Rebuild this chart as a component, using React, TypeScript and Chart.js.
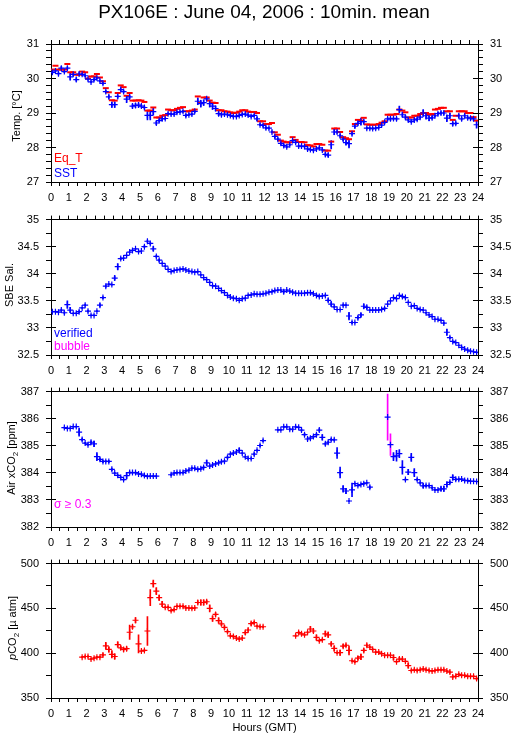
import React, { useEffect, useRef } from "react";
import { Chart, registerables } from "chart.js";

Chart.register(...registerables);

const FONT = '"Liberation Sans", Arial, Helvetica, sans-serif';
const BLUE = "#0000ff";
const RED = "#ff0000";
const MAGENTA = "#ff00ff";

// ---------------- DATA ----------------
const timeHours = [
  0.08, 0.25, 0.42, 0.58, 0.75, 0.92, 1.08, 1.25, 1.42, 1.58, 1.75, 1.92,
  2.08, 2.25, 2.42, 2.58, 2.75, 2.92, 3.08, 3.25, 3.42, 3.58, 3.75, 3.92,
  4.08, 4.25, 4.42, 4.58, 4.75, 4.92, 5.08, 5.25, 5.42, 5.58, 5.75, 5.92,
  6.08, 6.25, 6.42, 6.58, 6.75, 6.92, 7.08, 7.25, 7.42, 7.58, 7.75, 7.92,
  8.08, 8.25, 8.42, 8.58, 8.75, 8.92, 9.08, 9.25, 9.42, 9.58, 9.75, 9.92,
  10.08, 10.25, 10.42, 10.58, 10.75, 10.92, 11.08, 11.25, 11.42, 11.58, 11.75, 11.92,
  12.08, 12.25, 12.42, 12.58, 12.75, 12.92, 13.08, 13.25, 13.42, 13.58, 13.75, 13.92,
  14.08, 14.25, 14.42, 14.58, 14.75, 14.92, 15.08, 15.25, 15.42, 15.58, 15.75, 15.92,
  16.08, 16.25, 16.42, 16.58, 16.75, 16.92, 17.08, 17.25, 17.42, 17.58, 17.75, 17.92,
  18.08, 18.25, 18.42, 18.58, 18.75, 18.92, 19.08, 19.25, 19.42, 19.58, 19.75, 19.92,
  20.08, 20.25, 20.42, 20.58, 20.75, 20.92, 21.08, 21.25, 21.42, 21.58, 21.75, 21.92,
  22.08, 22.25, 22.42, 22.58, 22.75, 22.92, 23.08, 23.25, 23.42, 23.58, 23.75, 23.92,
];

const sstValues = [
  30.18, 30.22, 30.14, 30.3, 30.2, 30.3, 30.05, 30.12, 29.97, 30.13, 30.12, 30.08,
  29.98, 29.9, 29.97, 30.02, 29.93, 29.86, 29.62, 29.47, 29.24, 29.24, 29.48, 29.68,
  29.62, 29.4, 29.47, 29.2, 29.22, 29.23, 29.2, 29.16, 28.93, 28.93, 29.04, 28.71,
  28.78, 28.83, 28.84, 28.98, 28.97, 28.97, 29.02, 29.03, 29.05, 28.93, 28.95, 28.97,
  29.05, 29.34, 29.27, 29.3, 29.41, 29.27, 29.2, 29.13, 28.98, 28.95, 28.97, 28.95,
  28.93, 28.9, 28.9, 28.93, 28.96, 28.97, 28.94, 28.9, 28.93, 28.83, 28.66, 28.64,
  28.57, 28.56, 28.45, 28.32, 28.24, 28.12, 28.06, 28.02, 28.08, 28.2, 28.15, 28.04,
  28.04, 28.03, 27.96, 27.94, 27.92, 27.96, 27.99, 27.93, 27.8, 27.78, 28.08, 28.45,
  28.45, 28.34, 28.24, 28.14, 28.11, 28.4, 28.62, 28.7, 28.75, 28.75, 28.56, 28.56,
  28.55, 28.56, 28.58, 28.65, 28.73, 28.83, 28.83, 28.84, 28.83, 29.1, 28.95, 28.88,
  28.8, 28.75, 28.8, 28.82, 28.88, 29.0, 28.92, 28.85, 28.86, 28.92, 28.98, 29.0,
  29.0, 28.85, 28.92, 28.69, 28.7, 28.92, 28.83, 28.92, 28.86, 28.85, 28.83, 28.66,
];

const sstSigma = [
  0.03, 0.03, 0.04, 0.05, 0.03, 0.04, 0.1, 0.04, 0.05, 0.04, 0.03, 0.03,
  0.03, 0.03, 0.03, 0.03, 0.03, 0.03, 0.04, 0.05, 0.08, 0.08, 0.05, 0.04,
  0.04, 0.1, 0.05, 0.06, 0.06, 0.06, 0.04, 0.04, 0.13, 0.13, 0.1, 0.05,
  0.04, 0.05, 0.03, 0.03, 0.03, 0.03, 0.03, 0.03, 0.03, 0.04, 0.03, 0.03,
  0.04, 0.1, 0.1, 0.08, 0.05, 0.1, 0.1, 0.07, 0.06, 0.04, 0.03, 0.03,
  0.03, 0.03, 0.03, 0.03, 0.03, 0.03, 0.03, 0.03, 0.03, 0.05, 0.03, 0.04,
  0.04, 0.03, 0.03, 0.05, 0.04, 0.04, 0.04, 0.03, 0.03, 0.04, 0.03, 0.03,
  0.03, 0.03, 0.04, 0.03, 0.03, 0.03, 0.03, 0.03, 0.05, 0.05, 0.12, 0.08,
  0.04, 0.05, 0.05, 0.06, 0.12, 0.04, 0.05, 0.05, 0.1, 0.05, 0.03, 0.03,
  0.03, 0.03, 0.03, 0.04, 0.04, 0.04, 0.05, 0.04, 0.04, 0.1, 0.06, 0.05,
  0.04, 0.03, 0.04, 0.04, 0.04, 0.1, 0.1, 0.07, 0.04, 0.03, 0.04, 0.04,
  0.04, 0.1, 0.08, 0.05, 0.04, 0.05, 0.04, 0.04, 0.04, 0.05, 0.05, 0.1,
];

const eqTValues = [
  30.26, 30.37, 30.26, 30.26, 30.26, 30.42, 30.18, 30.18, 30.11, 30.11, 30.2, 30.18,
  30.0, 30.06, 30.06, 30.13, 30.03, 29.92, 29.72, 29.6, 29.37, 29.36, 29.58, 29.8,
  29.75, 29.5, 29.58, 29.36, 29.36, 29.37, 29.36, 29.32, 29.07, 29.07, 29.16, 28.87,
  28.87, 28.92, 28.94, 29.1, 29.08, 29.08, 29.12, 29.15, 29.17, 29.05, 29.05, 29.07,
  29.1, 29.48, 29.29, 29.45, 29.45, 29.36, 29.3, 29.29, 29.08, 29.08, 29.05, 29.04,
  29.02, 29.0, 29.01, 29.04, 29.08, 29.08, 29.04, 29.03, 29.03, 29.0, 28.76, 28.76,
  28.68, 28.68, 28.71, 28.44, 28.37, 28.2, 28.17, 28.15, 28.15, 28.3, 28.22, 28.16,
  28.16, 28.15, 28.07, 28.06, 28.03, 28.1, 28.1, 28.08, 27.91, 27.91, 28.17, 28.55,
  28.55, 28.45, 28.3, 28.27, 28.24, 28.47, 28.68, 28.8, 28.78, 28.86, 28.67, 28.66,
  28.66, 28.66, 28.68, 28.72, 28.76, 28.95, 28.95, 28.95, 28.97, 29.1, 29.07, 29.02,
  28.87, 28.87, 28.92, 28.92, 28.97, 29.0, 29.0, 28.95, 28.97, 29.1, 29.12, 29.15,
  29.15, 29.05, 29.05, 28.8, 28.92, 29.05, 29.05, 29.05, 29.0, 29.0, 28.88, 28.78,
];

const salValues = [
  33.3, 33.3, 33.29, 33.33, 33.28, 33.43, 33.33, 33.27, 33.27, 33.3, 33.37, 33.42,
  33.31, 33.23, 33.23, 33.31, 33.42, 33.56, 33.77, 33.81, 33.8, 33.92, 34.13, 34.28,
  34.29, 34.34, 34.4, 34.43, 34.46, 34.41, 34.42, 34.5, 34.6, 34.56, 34.46, 34.32,
  34.25, 34.19, 34.14, 34.08, 34.04, 34.06, 34.07, 34.08, 34.09, 34.07, 34.05, 34.04,
  34.03, 34.04, 33.98, 33.93, 33.89, 33.84, 33.78, 33.77, 33.73, 33.69, 33.65, 33.6,
  33.57, 33.55, 33.54, 33.51, 33.54, 33.55, 33.6, 33.61, 33.63, 33.62, 33.62, 33.63,
  33.64, 33.66, 33.67, 33.69, 33.7, 33.7, 33.67, 33.7, 33.68, 33.66, 33.64, 33.64,
  33.64, 33.64, 33.65, 33.65, 33.63, 33.6, 33.58, 33.59, 33.6, 33.51, 33.44, 33.39,
  33.34, 33.34, 33.42, 33.42, 33.22, 33.1, 33.1, 33.19, 33.24, 33.4, 33.38, 33.33,
  33.33, 33.33, 33.33, 33.34, 33.36, 33.44, 33.5, 33.56, 33.54, 33.6, 33.58, 33.56,
  33.47, 33.4, 33.41, 33.36, 33.34, 33.33, 33.28, 33.24, 33.21, 33.16, 33.16, 33.14,
  33.09, 32.92, 32.82, 32.75, 32.73, 32.68, 32.64, 32.61, 32.59, 32.57, 32.56, 32.55,
];

const salSigma = [
  0.01, 0.01, 0.01, 0.02, 0.02, 0.07, 0.05, 0.01, 0.01, 0.02, 0.01, 0.02,
  0.02, 0.01, 0.01, 0.01, 0.03, 0.02, 0.02, 0.01, 0.01, 0.04, 0.06, 0.02,
  0.01, 0.01, 0.01, 0.01, 0.01, 0.01, 0.01, 0.02, 0.02, 0.02, 0.04, 0.02,
  0.02, 0.01, 0.01, 0.01, 0.01, 0.01, 0.01, 0.01, 0.01, 0.01, 0.01, 0.01,
  0.01, 0.01, 0.01, 0.01, 0.01, 0.01, 0.01, 0.01, 0.01, 0.01, 0.01, 0.01,
  0.01, 0.01, 0.01, 0.01, 0.01, 0.01, 0.01, 0.01, 0.01, 0.01, 0.01, 0.01,
  0.01, 0.01, 0.01, 0.01, 0.01, 0.01, 0.03, 0.01, 0.01, 0.01, 0.01, 0.01,
  0.01, 0.01, 0.01, 0.01, 0.01, 0.01, 0.01, 0.01, 0.01, 0.03, 0.04, 0.02,
  0.01, 0.01, 0.02, 0.01, 0.07, 0.02, 0.01, 0.03, 0.03, 0.04, 0.03, 0.01,
  0.01, 0.01, 0.01, 0.01, 0.02, 0.01, 0.01, 0.01, 0.01, 0.01, 0.02, 0.01,
  0.01, 0.01, 0.01, 0.01, 0.01, 0.01, 0.01, 0.01, 0.01, 0.01, 0.01, 0.01,
  0.02, 0.06, 0.02, 0.01, 0.01, 0.01, 0.01, 0.01, 0.01, 0.01, 0.01, 0.01,
];

const xco2Hours = [
  0.75, 0.92, 1.08, 1.25, 1.42, 1.58, 1.75, 1.92, 2.08, 2.25, 2.42, 2.58, 2.75, 2.92,
  3.08, 3.25, 3.42, 3.58, 3.75, 3.92, 4.08, 4.25, 4.42, 4.58, 4.75, 4.92, 5.08, 5.25,
  5.42, 5.58, 5.75, 5.92,
  6.75, 6.92, 7.08, 7.25, 7.42, 7.58, 7.75, 7.92, 8.08, 8.25, 8.42, 8.58, 8.75, 8.92,
  9.08, 9.25, 9.42, 9.58, 9.75, 9.92, 10.08, 10.25, 10.42, 10.58, 10.75, 10.92, 11.08,
  11.25, 11.42, 11.58, 11.75, 11.92,
  12.75, 12.92, 13.08, 13.25, 13.42, 13.58, 13.75, 13.92, 14.08, 14.25, 14.42, 14.58,
  14.75, 14.92, 15.08, 15.25, 15.42, 15.58, 15.75, 15.92, 16.08, 16.25, 16.42, 16.58,
  16.75, 16.92, 17.08, 17.25, 17.42, 17.58, 17.75, 17.92,
  18.92, 19.08, 19.25, 19.42, 19.58, 19.75, 19.92, 20.08, 20.25, 20.42, 20.58, 20.75,
  20.92, 21.08, 21.25, 21.42, 21.58, 21.75, 21.92, 22.08, 22.25, 22.42, 22.58, 22.75,
  22.92, 23.08, 23.25, 23.42, 23.58, 23.75, 23.92,
];

const xco2Values = [
  385.67, 385.64, 385.64, 385.71, 385.71, 385.5, 385.23, 385.1, 385.04, 385.13, 385.07,
  384.6, 384.5, 384.42, 384.42, 384.42, 384.13, 383.99, 383.91, 383.83, 383.75, 383.9,
  384.01, 384.01, 384.01, 383.96, 383.95, 383.9, 383.87, 383.88, 383.88, 383.88,
  383.93, 383.99, 384.01, 384.01, 384.01, 384.07, 384.1, 384.17, 384.17, 384.13, 384.15,
  384.2, 384.37, 384.25, 384.29, 384.33, 384.37, 384.41, 384.43, 384.57, 384.69, 384.73,
  384.77, 384.83, 384.73, 384.59, 384.53, 384.53, 384.69, 384.83, 385.01, 385.19,
  385.59, 385.59, 385.7, 385.7, 385.61, 385.61, 385.7, 385.68, 385.58, 385.41, 385.25,
  385.28, 385.34, 385.41, 385.58, 385.31, 385.07, 385.13, 385.23, 385.22, 384.73, 384.01,
  383.41, 383.33, 382.96, 383.37, 383.6, 383.53, 383.57, 383.6, 383.63, 383.47,
  386.06, 385.04, 384.6, 384.63, 384.71, 384.2, 383.75, 384.03, 384.57, 384.01, 383.75,
  383.63, 383.52, 383.53, 383.53, 383.45, 383.37, 383.37, 383.41, 383.41, 383.57, 383.65,
  383.83, 383.76, 383.76, 383.77, 383.72, 383.71, 383.69, 383.69, 383.68,
];

const xco2Sigma = [
  0.02, 0.02, 0.02, 0.02, 0.02, 0.15, 0.05, 0.03, 0.03, 0.05, 0.1, 0.15, 0.05, 0.04,
  0.03, 0.04, 0.05, 0.03, 0.03, 0.03, 0.03, 0.12, 0.04, 0.03, 0.03, 0.03, 0.03, 0.03,
  0.03, 0.03, 0.03, 0.03,
  0.03, 0.03, 0.03, 0.03, 0.03, 0.03, 0.03, 0.03, 0.03, 0.03, 0.03, 0.03, 0.1, 0.03,
  0.03, 0.03, 0.03, 0.03, 0.03, 0.05, 0.03, 0.03, 0.03, 0.08, 0.03, 0.03, 0.03, 0.03,
  0.05, 0.03, 0.04, 0.04,
  0.02, 0.02, 0.03, 0.03, 0.03, 0.03, 0.03, 0.03, 0.04, 0.05, 0.04, 0.05, 0.04, 0.05,
  0.05, 0.1, 0.05, 0.04, 0.04, 0.04, 0.2, 0.2, 0.12, 0.1, 0.02, 0.25, 0.03, 0.02, 0.02,
  0.03, 0.02, 0.05,
  0.85, 0.4, 0.15, 0.2, 0.15, 0.25, 0.03, 0.1, 0.15, 0.15, 0.04, 0.04, 0.08, 0.04,
  0.03, 0.03, 0.03, 0.03, 0.08, 0.1, 0.1, 0.05, 0.1, 0.05, 0.04, 0.03, 0.03, 0.03,
  0.02, 0.02, 0.02,
];

const pco2Hours = [
  1.75, 1.92, 2.08, 2.25, 2.42, 2.58, 2.75, 2.92, 3.08, 3.25, 3.42, 3.58, 3.75, 3.92,
  4.08, 4.25, 4.42, 4.58, 4.75, 4.92, 5.08, 5.25, 5.42, 5.58, 5.75, 5.92, 6.08, 6.25,
  6.42, 6.58, 6.75, 6.92, 7.08, 7.25, 7.42, 7.58, 7.75, 7.92, 8.08, 8.25, 8.42, 8.58,
  8.75, 8.92, 9.08, 9.25, 9.42, 9.58, 9.75, 9.92, 10.08, 10.25, 10.42, 10.58, 10.75,
  10.92, 11.08, 11.25, 11.42, 11.58, 11.75, 11.92,
  13.75, 13.92, 14.08, 14.25, 14.42, 14.58, 14.75, 14.92, 15.08, 15.25, 15.42, 15.58,
  15.75, 15.92, 16.08, 16.25, 16.42, 16.58, 16.75, 16.92, 17.08, 17.25, 17.42, 17.58,
  17.75, 17.92, 18.08, 18.25, 18.42, 18.58, 18.75, 18.92, 19.08, 19.25, 19.42, 19.58,
  19.75, 19.92, 20.08, 20.25, 20.42, 20.58, 20.75, 20.92, 21.08, 21.25, 21.42, 21.58,
  21.75, 21.92, 22.08, 22.25, 22.42, 22.58, 22.75, 22.92, 23.08, 23.25, 23.42, 23.58,
  23.75, 23.92,
];

const pco2Values = [
  395.6, 396.3, 396.3, 393.4, 394.5, 395.6, 395.6, 398.1, 408.2, 404.2, 398.8, 396.3,
  409.6, 406.0, 404.2, 405.0, 423.4, 429.5, 436.8, 410.4, 402.4, 403.1, 424.8, 462.0,
  477.6, 469.3, 462.0, 454.8, 451.2, 451.2, 447.6, 448.7, 452.3, 452.3, 452.3, 450.5,
  450.5, 450.1, 450.5, 456.6, 456.6, 456.6, 457.4, 450.1, 438.6, 443.3, 436.4, 432.8,
  428.8, 424.1, 419.4, 418.7, 416.9, 415.8, 416.9, 423.0, 425.9, 433.1, 434.2, 430.2,
  429.5, 429.5,
  419.4, 423.0, 421.6, 420.5, 423.4, 427.0, 424.8, 417.6, 414.0, 415.1, 421.6, 420.5,
  410.4, 405.3, 400.6, 400.6, 407.8, 408.9, 403.1, 391.6, 390.5, 394.5, 395.9, 403.1,
  408.9, 406.8, 404.2, 401.3, 401.3, 399.5, 397.7, 397.7, 397.7, 395.2, 390.5, 393.4,
  393.4, 390.9, 386.2, 380.7, 381.5, 380.7, 381.5, 382.5, 381.5, 380.7, 380.0, 380.7,
  381.5, 381.5, 381.5, 380.0, 378.9, 373.5, 374.2, 376.4, 375.3, 375.3, 374.2, 374.2,
  374.2, 371.7,
];

const pco2Sigma = [
  1, 1, 1, 1, 1, 1, 1, 1.5, 4, 3, 4, 3, 3, 2,
  2, 2, 8, 2, 3, 10, 1, 1, 16, 9, 4, 4, 3, 3,
  1, 1, 1, 1, 1, 1, 1, 1, 1, 1, 1, 2, 3, 3,
  2, 4, 3, 2, 3, 2, 2, 1.5, 1, 1, 1, 1, 1,
  2, 1.5, 2, 1.5, 1, 1, 1,
  1, 1.5, 1.5, 1, 1, 3, 2, 3, 1, 1, 3, 3,
  2, 3, 1, 3, 2, 1.5, 5, 1, 1, 2, 3, 2,
  1.5, 1, 1, 1, 1, 1, 1, 1, 1, 3, 1, 2,
  1.5, 1, 3, 1, 1, 1, 1, 1, 1, 1, 1, 1,
  1, 1, 1, 1, 1.5, 1.5, 1, 1, 1, 1, 1, 1,
  1, 1.5,
];

const SIGMA_FLAG = 0.3;

// ---------------- helpers ----------------
type Seg = { t: string; italic?: boolean; sub?: boolean };
type TextItem = { text: string; x: number; y: number; color: string; size: number; align?: CanvasTextAlign };

type PanelSpec = {
  top: number;
  height: number;
  padTop: number;
  plotTop: number;
  plotBottom: number;
  yMin: number;
  yMax: number;
  yStep: number;
  yMajor: number;
  yDecimals: number;
  datasets: any[];
  xTitle?: string;
  yTitle: Seg[];
  yTitleX: number;
  yTitleY: number;
  texts: TextItem[];
};

const isMultiple = (v: number, m: number) => Math.abs(v / m - Math.round(v / m)) < 1e-6;

function errBars(hours: number[], vals: number[], sig: number[], colorFn: (s: number) => string) {
  return {
    type: "bar",
    data: hours.map((h, i) => ({ x: h, y: [vals[i] - sig[i], vals[i] + sig[i]] })),
    backgroundColor: sig.map((s) => colorFn(s)),
    borderWidth: 0,
    barThickness: 1,
    grouped: false,
    xAxisID: "x",
    yAxisID: "y",
    order: 3,
  };
}

function crosses(hours: number[], vals: number[], color: string, radius = 3) {
  return {
    type: "scatter",
    data: hours.map((h, i) => ({ x: h, y: vals[i] })),
    pointStyle: "cross",
    pointRadius: radius,
    pointBorderWidth: 1.2,
    borderColor: color,
    backgroundColor: color,
    xAxisID: "x",
    yAxisID: "y",
    order: 1,
  };
}

function dashes(hours: number[], vals: number[], color: string) {
  return {
    type: "scatter",
    data: hours.map((h, i) => ({ x: h, y: vals[i] })),
    pointStyle: "line",
    pointRadius: 3,
    pointBorderWidth: 2,
    borderColor: color,
    backgroundColor: color,
    xAxisID: "x",
    yAxisID: "y",
    order: 2,
  };
}

function drawRich(ctx: CanvasRenderingContext2D, segs: Seg[], cx: number, cy: number, size: number) {
  ctx.save();
  ctx.translate(cx, cy);
  ctx.rotate(-Math.PI / 2);
  const fonts = segs.map((s) => `${s.italic ? "italic " : ""}${s.sub ? Math.round(size * 0.75) : size}px ${FONT}`);
  let total = 0;
  const widths = segs.map((s, i) => {
    ctx.font = fonts[i];
    const w = ctx.measureText(s.t).width;
    total += w;
    return w;
  });
  let x = -total / 2;
  ctx.fillStyle = "#000";
  ctx.textBaseline = "alphabetic";
  ctx.textAlign = "left";
  const base = size * 0.36;
  segs.forEach((s, i) => {
    ctx.font = fonts[i];
    ctx.fillText(s.t, x, s.sub ? base + size * 0.25 : base);
    x += widths[i];
  });
  ctx.restore();
}

function makePlugin(spec: PanelSpec) {
  return {
    id: "decor",
    afterDraw(chart: any) {
      const ctx: CanvasRenderingContext2D = chart.ctx;
      const { left, right } = chart.chartArea;
      const ys = chart.scales.y;
      ctx.save();
      ctx.strokeStyle = "#000";
      ctx.lineWidth = 1;
      ctx.beginPath();
      ys.ticks.forEach((t: any) => {
        if (isMultiple(t.value, spec.yMajor)) {
          const py = Math.round(ys.getPixelForValue(t.value) - 0.5) + 0.5;
          ctx.moveTo(left, py);
          ctx.lineTo(left + 5, py);
          ctx.moveTo(right - 5, py);
          ctx.lineTo(right, py);
        }
      });
      ctx.stroke();
      ctx.restore();

      spec.texts.forEach((t) => {
        ctx.save();
        ctx.font = `${t.size}px ${FONT}`;
        ctx.fillStyle = t.color;
        ctx.textAlign = t.align || "left";
        ctx.textBaseline = "alphabetic";
        ctx.fillText(t.text, t.x, t.y);
        ctx.restore();
      });
      drawRich(ctx, spec.yTitle, spec.yTitleX, spec.yTitleY, 11);
    },
  };
}

function buildConfig(spec: PanelSpec): any {
  const tickFont = { family: FONT, size: 11 };
  const grid = {
    display: true,
    drawOnChartArea: false,
    drawTicks: true,
    tickColor: "#000",
    tickWidth: 1,
    offset: false,
  };
  const border = { display: true, color: "#000", width: 1 };
  const xLabel = (v: any) => (isMultiple(Number(v), 1) ? String(Math.round(Number(v))) : "");
  const yLabel = (v: any) => (isMultiple(Number(v), spec.yMajor) ? Number(v).toFixed(isMultiple(Number(v), 1) ? 0 : spec.yDecimals) : "");
  const xH = spec.height - spec.plotBottom;
  const x2H = spec.plotTop - spec.padTop;
  return {
    type: "scatter",
    data: { datasets: spec.datasets },
    plugins: [makePlugin(spec)],
    options: {
      animation: false,
      responsive: false,
      events: [],
      layout: { padding: { top: spec.padTop, left: 0, right: 0, bottom: 0 } },
      plugins: { legend: { display: false }, tooltip: { enabled: false }, title: { display: false } },
      scales: {
        x: {
          type: "linear",
          position: "bottom",
          min: 0,
          max: 24,
          offset: false,
          ticks: {
            stepSize: 0.5,
            autoSkip: false,
            maxRotation: 0,
            minRotation: 0,
            padding: 5,
            color: "#000",
            font: tickFont,
            callback: xLabel,
          },
          grid: { ...grid, tickLength: 4 },
          border,
          title: spec.xTitle
            ? { display: true, text: spec.xTitle, color: "#000", font: tickFont, padding: { top: 0, bottom: 4 } }
            : { display: false },
          afterFit: (s: any) => {
            s.height = xH;
          },
        },
        x2: {
          type: "linear",
          position: "top",
          min: 0,
          max: 24,
          offset: false,
          ticks: { stepSize: 0.5, autoSkip: false, maxRotation: 0, minRotation: 0, display: false },
          grid: { ...grid, tickLength: 4 },
          border,
          afterFit: (s: any) => {
            s.height = x2H;
          },
        },
        y: {
          type: "linear",
          position: "left",
          min: spec.yMin,
          max: spec.yMax,
          ticks: { stepSize: spec.yStep, autoSkip: false, padding: 7, color: "#000", font: tickFont, callback: yLabel },
          grid: { ...grid, tickLength: 5 },
          border,
          afterFit: (s: any) => {
            s.width = 51;
          },
        },
        y2: {
          type: "linear",
          position: "right",
          min: spec.yMin,
          max: spec.yMax,
          ticks: { stepSize: spec.yStep, autoSkip: false, padding: 7, color: "#000", font: tickFont, callback: yLabel },
          grid: { ...grid, tickLength: 5 },
          border,
          afterFit: (s: any) => {
            s.width = 37;
          },
        },
      },
    },
  };
}

function Panel({ spec }: { spec: PanelSpec }) {
  const ref = useRef<HTMLCanvasElement | null>(null);
  useEffect(() => {
    if (!ref.current) return;
    const chart = new Chart(ref.current, buildConfig(spec));
    return () => chart.destroy();
  }, [spec]);
  return (
    <canvas
      ref={ref}
      width={515}
      height={spec.height}
      style={{ position: "absolute", left: 0, top: spec.top, width: 515, height: spec.height, display: "block" }}
    />
  );
}

// ---------------- panels ----------------
const P1_TOP = 0;
const P2_TOP = 206;
const P3_TOP = 378;
const P4_TOP = 550;

const panels: PanelSpec[] = [
  {
    top: P1_TOP,
    height: 206,
    padTop: 30,
    plotTop: 44,
    plotBottom: 182,
    yMin: 27,
    yMax: 31,
    yStep: 0.2,
    yMajor: 1,
    yDecimals: 0,
    datasets: [
      crosses(timeHours, sstValues, BLUE),
      dashes(timeHours, eqTValues, RED),
      errBars(timeHours, sstValues, sstSigma, () => BLUE),
    ],
    yTitle: [{ t: "Temp. [°C]" }],
    yTitleX: 16,
    yTitleY: 116,
    texts: [
      { text: "PX106E : June 04, 2006 : 10min. mean", x: 264, y: 18, color: "#000", size: 19, align: "center" },
      { text: "Eq_T", x: 54, y: 162, color: RED, size: 12 },
      { text: "SST", x: 54, y: 177, color: BLUE, size: 12 },
    ],
  },
  {
    top: P2_TOP,
    height: 172,
    padTop: 0,
    plotTop: 217 - P2_TOP,
    plotBottom: 355 - P2_TOP,
    yMin: 32.5,
    yMax: 35,
    yStep: 0.25,
    yMajor: 0.5,
    yDecimals: 1,
    datasets: [crosses(timeHours, salValues, BLUE), errBars(timeHours, salValues, salSigma, () => BLUE)],
    yTitle: [{ t: "SBE Sal." }],
    yTitleX: 9,
    yTitleY: 285 - P2_TOP,
    texts: [
      { text: "verified", x: 54, y: 337 - P2_TOP, color: BLUE, size: 12 },
      { text: "bubble", x: 54, y: 350 - P2_TOP, color: MAGENTA, size: 12 },
    ],
  },
  {
    top: P3_TOP,
    height: 172,
    padTop: 0,
    plotTop: 388 - P3_TOP,
    plotBottom: 527 - P3_TOP,
    yMin: 382,
    yMax: 387,
    yStep: 0.5,
    yMajor: 1,
    yDecimals: 0,
    datasets: [
      crosses(xco2Hours, xco2Values, BLUE),
      errBars(xco2Hours, xco2Values, xco2Sigma, (s) => (s >= SIGMA_FLAG ? MAGENTA : BLUE)),
    ],
    yTitle: [{ t: "Air xCO" }, { t: "2", sub: true }, { t: " [ppm]" }],
    yTitleX: 11,
    yTitleY: 458 - P3_TOP,
    texts: [{ text: "σ ≥ 0.3", x: 54, y: 508 - P3_TOP, color: MAGENTA, size: 12 }],
  },
  {
    top: P4_TOP,
    height: 189,
    padTop: 0,
    plotTop: 560 - P4_TOP,
    plotBottom: 698 - P4_TOP,
    yMin: 350,
    yMax: 500,
    yStep: 25,
    yMajor: 50,
    yDecimals: 0,
    datasets: [crosses(pco2Hours, pco2Values, RED), errBars(pco2Hours, pco2Values, pco2Sigma, () => RED)],
    xTitle: "Hours (GMT)",
    yTitle: [{ t: "p", italic: true }, { t: "CO" }, { t: "2", sub: true }, { t: " [µ atm]" }],
    yTitleX: 12,
    yTitleY: 628 - P4_TOP,
    texts: [],
  },
];

export default function App() {
  return (
    <div style={{ position: "absolute", left: 0, top: 0, width: 515, height: 739, background: "#fff", overflow: "hidden" }}>
      {panels.map((p, i) => (
        <Panel key={i} spec={p} />
      ))}
    </div>
  );
}
